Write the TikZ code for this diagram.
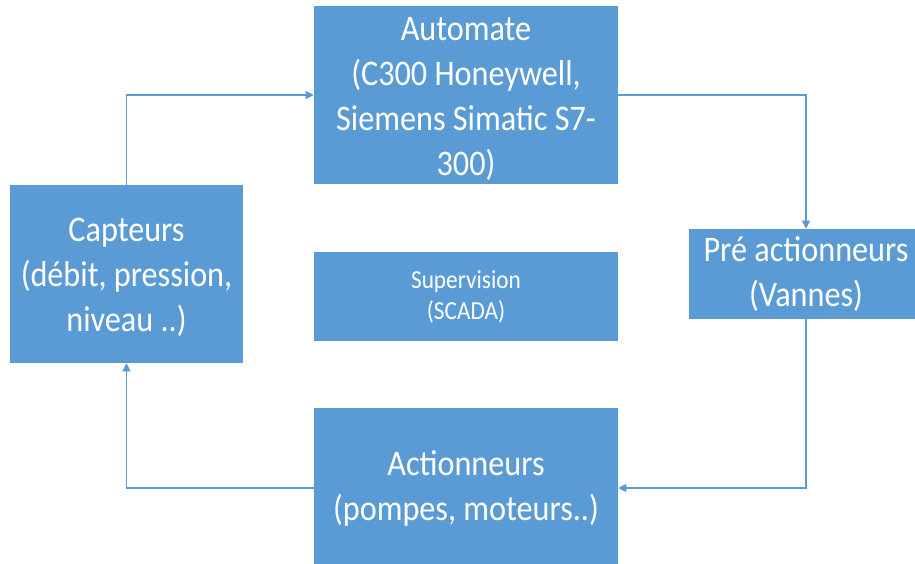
\documentclass[tikz,border=0pt]{standalone}
\usepackage{fontspec}
\setmainfont{Carlito}[FakeStretch=0.895]
\usetikzlibrary{arrows.meta}
\definecolor{boxblue}{HTML}{5B9BD5}
% lowers the text of a multi-line block a little by padding its first line
\newcommand{\toppad}{\rule{0pt}{22.5pt}}
\begin{document}
\begin{tikzpicture}[x=0.75pt, y=-0.75pt,
  block/.style={fill=boxblue, draw=none, text=white, align=center, inner sep=0pt,
    font=\fontsize{27pt}{33.75pt}\selectfont},
  smallblock/.style={block, font=\fontsize{19.5pt}{23.25pt}\selectfont},
  link/.style={draw=boxblue, line width=0.8pt, -{Triangle[length=6pt, width=6pt]}}]
\useasboundingbox (0,0) rectangle (915,564);
\clip (0,0) rectangle (915,564);

\node[block, minimum width=228pt, minimum height=133.5pt] (automate) at (466,95)
  {\toppad Automate\\(C300 Honeywell,\\Siemens Simatic S7-\\300)};
\node[block, minimum width=174.75pt, minimum height=133.5pt] (capteurs) at (126.5,274)
  {\toppad Capteurs\\(débit, pression,\\niveau ..)};
\node[smallblock, minimum width=228pt, minimum height=66.75pt] (supervision) at (466,296.5)
  {Supervision\\(SCADA)};
\node[block, minimum width=175.5pt, minimum height=67.5pt] (pre) at (806,274)
  {Pré actionneurs\\(Vannes)};
\node[block, minimum width=228pt, minimum height=120pt] (actionneurs) at (466,488)
  {Actionneurs\\(pompes, moteurs..)};

\draw[link] (capteurs.north) |- (automate.west);
\draw[link] (automate.east) -| (pre.north);
\draw[link] (pre.south) |- (actionneurs.east);
\draw[link] (actionneurs.west) -| (capteurs.south);
\end{tikzpicture}
\end{document}
